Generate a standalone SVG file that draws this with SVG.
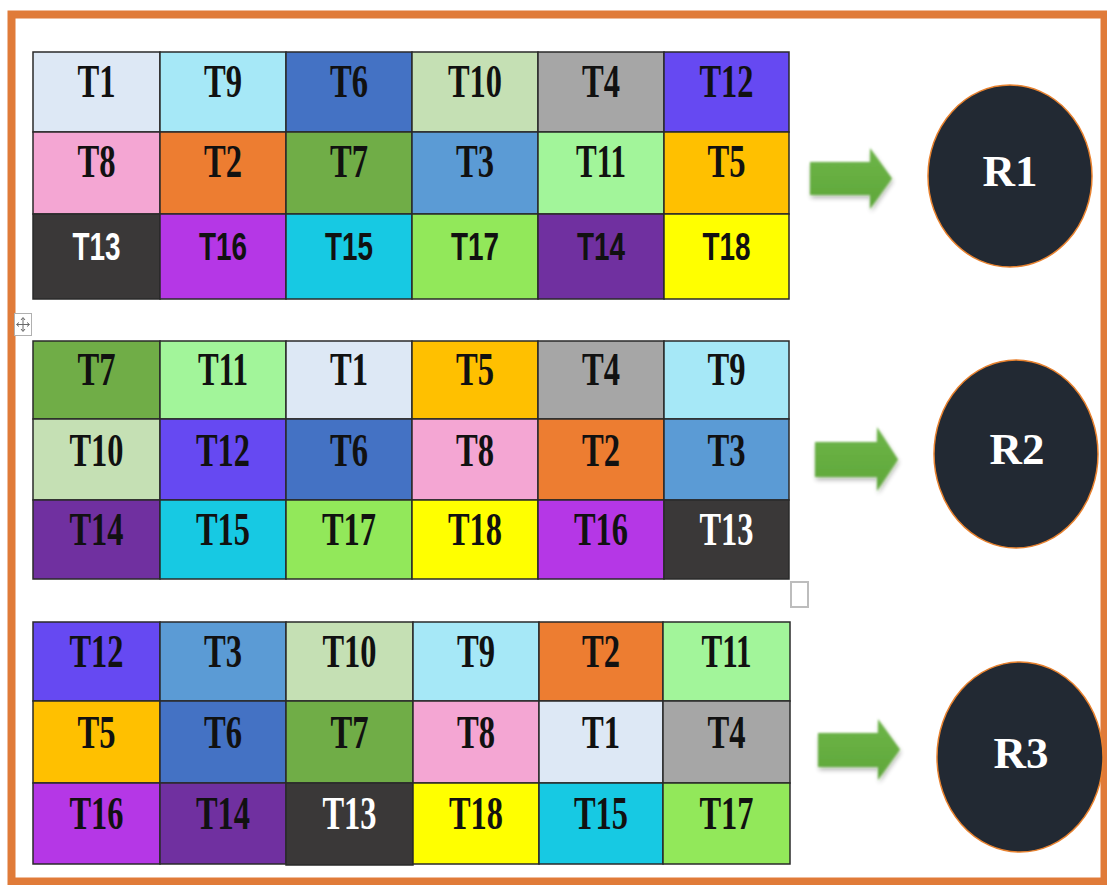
<svg xmlns="http://www.w3.org/2000/svg" width="1107" height="885" viewBox="0 0 1107 885">
  <defs>
    <style>
      .cell rect { stroke: #2a2a2a; stroke-width: 1.5; }
      .t { font-family: "Liberation Serif", "Times New Roman", serif; font-weight: bold; font-size: 46px; fill: #111; text-anchor: middle; }
      .s { font-family: "Liberation Sans", Arial, sans-serif; font-weight: bold; font-size: 38px; fill: #111; text-anchor: middle; }
      .w { fill: #ffffff; }
      .res ellipse { fill: #222933; stroke: #e8822f; stroke-width: 1.5; }
      .res text { font-family: "Liberation Serif", "Times New Roman", serif; font-weight: bold; font-size: 45px; fill: #ffffff; text-anchor: middle; }
      .arrow { fill: url(#arrowFill); filter: url(#soft); }
    </style>
    <linearGradient id="arrowFill" x1="0" y1="0" x2="0" y2="1">
      <stop offset="0" stop-color="#6db548"/>
      <stop offset="1" stop-color="#5fa73a"/>
    </linearGradient>
    <filter id="soft" x="-20%" y="-20%" width="140%" height="150%">
      <feGaussianBlur in="SourceAlpha" stdDeviation="2.5"/>
      <feOffset dx="1" dy="3" result="sh"/>
      <feComponentTransfer in="sh" result="shd"><feFuncA type="linear" slope="0.3"/></feComponentTransfer>
      <feGaussianBlur in="SourceGraphic" stdDeviation="0.8" result="g"/>
      <feMerge><feMergeNode in="shd"/><feMergeNode in="g"/></feMerge>
    </filter>
  </defs>

  <rect x="0" y="0" width="1107" height="885" fill="#ffffff"/>
  <!-- outer frame -->
  <rect x="11.5" y="14.5" width="1093" height="867" fill="none" stroke="#e07b39" stroke-width="8"/>

  <!-- table 1 -->
  <g id="table1">
    <g id="t1-T1" class="cell"><rect x="33" y="52" width="127" height="80" fill="#dde8f5"/><text class="t" x="96.5" y="97" textLength="38" lengthAdjust="spacingAndGlyphs">T1</text></g>
    <g id="t1-T9" class="cell"><rect x="160" y="52" width="126" height="80" fill="#a6e8f7"/><text class="t" x="223" y="97" textLength="38" lengthAdjust="spacingAndGlyphs">T9</text></g>
    <g id="t1-T6" class="cell"><rect x="286" y="52" width="126" height="80" fill="#4472c4"/><text class="t" x="349" y="97" textLength="38" lengthAdjust="spacingAndGlyphs">T6</text></g>
    <g id="t1-T10" class="cell"><rect x="412" y="52" width="126" height="80" fill="#c5e0b4"/><text class="t" x="475" y="97" textLength="54" lengthAdjust="spacingAndGlyphs">T10</text></g>
    <g id="t1-T4" class="cell"><rect x="538" y="52" width="126" height="80" fill="#a6a6a6"/><text class="t" x="601" y="97" textLength="38" lengthAdjust="spacingAndGlyphs">T4</text></g>
    <g id="t1-T12" class="cell"><rect x="664" y="52" width="125" height="80" fill="#6649f2"/><text class="t" x="726.5" y="97" textLength="54" lengthAdjust="spacingAndGlyphs">T12</text></g>

    <g id="t1-T8" class="cell"><rect x="33" y="132" width="127" height="82" fill="#f4a6d3"/><text class="t" x="96.5" y="177" textLength="38" lengthAdjust="spacingAndGlyphs">T8</text></g>
    <g id="t1-T2" class="cell"><rect x="160" y="132" width="126" height="82" fill="#ed7d31"/><text class="t" x="223" y="177" textLength="38" lengthAdjust="spacingAndGlyphs">T2</text></g>
    <g id="t1-T7" class="cell"><rect x="286" y="132" width="126" height="82" fill="#70ad47"/><text class="t" x="349" y="177" textLength="38" lengthAdjust="spacingAndGlyphs">T7</text></g>
    <g id="t1-T3" class="cell"><rect x="412" y="132" width="126" height="82" fill="#5b9bd5"/><text class="t" x="475" y="177" textLength="38" lengthAdjust="spacingAndGlyphs">T3</text></g>
    <g id="t1-T11" class="cell"><rect x="538" y="132" width="126" height="82" fill="#a2f59a"/><text class="t" x="601" y="177" textLength="50" lengthAdjust="spacingAndGlyphs">T11</text></g>
    <g id="t1-T5" class="cell"><rect x="664" y="132" width="125" height="82" fill="#ffc000"/><text class="t" x="726.5" y="177" textLength="38" lengthAdjust="spacingAndGlyphs">T5</text></g>

    <g id="t1-T13" class="cell"><rect x="33" y="214" width="127" height="85" fill="#3a3838"/><text class="s w" x="96.5" y="260" textLength="48" lengthAdjust="spacingAndGlyphs">T13</text></g>
    <g id="t1-T16" class="cell"><rect x="160" y="214" width="126" height="85" fill="#b537e6"/><text class="s" x="223" y="260" textLength="48" lengthAdjust="spacingAndGlyphs">T16</text></g>
    <g id="t1-T15" class="cell"><rect x="286" y="214" width="126" height="85" fill="#17c9e3"/><text class="s" x="349" y="260" textLength="48" lengthAdjust="spacingAndGlyphs">T15</text></g>
    <g id="t1-T17" class="cell"><rect x="412" y="214" width="126" height="85" fill="#92e85a"/><text class="s" x="475" y="260" textLength="48" lengthAdjust="spacingAndGlyphs">T17</text></g>
    <g id="t1-T14" class="cell"><rect x="538" y="214" width="126" height="85" fill="#7030a0"/><text class="s" x="601" y="260" textLength="48" lengthAdjust="spacingAndGlyphs">T14</text></g>
    <g id="t1-T18" class="cell"><rect x="664" y="214" width="125" height="85" fill="#ffff00"/><text class="s" x="726.5" y="260" textLength="48" lengthAdjust="spacingAndGlyphs">T18</text></g>
  </g>

  <!-- table move handle -->
  <g id="move-handle" fill="none" stroke="#8a8a8a" stroke-width="1">
    <rect x="14.5" y="313.5" width="17" height="22" fill="#ffffff" stroke="#b0b0b0"/>
    <path d="M23 318 V331 M17 324.5 H29" stroke="#6a6a6a"/>
    <path d="M21 320 L23 317.5 L25 320 M21 329 L23 331.5 L25 329 M19 322.5 L16.5 324.5 L19 326.5 M27 322.5 L29.5 324.5 L27 326.5" stroke="#6a6a6a"/>
  </g>

  <!-- table 2 -->
  <g id="table2">
    <g id="t2-T7" class="cell"><rect x="33" y="341" width="127" height="78" fill="#70ad47"/><text class="t" x="96.5" y="385" textLength="38" lengthAdjust="spacingAndGlyphs">T7</text></g>
    <g id="t2-T11" class="cell"><rect x="160" y="341" width="126" height="78" fill="#a2f59a"/><text class="t" x="223" y="385" textLength="50" lengthAdjust="spacingAndGlyphs">T11</text></g>
    <g id="t2-T1" class="cell"><rect x="286" y="341" width="126" height="78" fill="#dde8f5"/><text class="t" x="349" y="385" textLength="38" lengthAdjust="spacingAndGlyphs">T1</text></g>
    <g id="t2-T5" class="cell"><rect x="412" y="341" width="126" height="78" fill="#ffc000"/><text class="t" x="475" y="385" textLength="38" lengthAdjust="spacingAndGlyphs">T5</text></g>
    <g id="t2-T4" class="cell"><rect x="538" y="341" width="126" height="78" fill="#a6a6a6"/><text class="t" x="601" y="385" textLength="38" lengthAdjust="spacingAndGlyphs">T4</text></g>
    <g id="t2-T9" class="cell"><rect x="664" y="341" width="125" height="78" fill="#a6e8f7"/><text class="t" x="726.5" y="385" textLength="38" lengthAdjust="spacingAndGlyphs">T9</text></g>

    <g id="t2-T10" class="cell"><rect x="33" y="419" width="127" height="81" fill="#c5e0b4"/><text class="t" x="96.5" y="466" textLength="54" lengthAdjust="spacingAndGlyphs">T10</text></g>
    <g id="t2-T12" class="cell"><rect x="160" y="419" width="126" height="81" fill="#6649f2"/><text class="t" x="223" y="466" textLength="54" lengthAdjust="spacingAndGlyphs">T12</text></g>
    <g id="t2-T6" class="cell"><rect x="286" y="419" width="126" height="81" fill="#4472c4"/><text class="t" x="349" y="466" textLength="38" lengthAdjust="spacingAndGlyphs">T6</text></g>
    <g id="t2-T8" class="cell"><rect x="412" y="419" width="126" height="81" fill="#f4a6d3"/><text class="t" x="475" y="466" textLength="38" lengthAdjust="spacingAndGlyphs">T8</text></g>
    <g id="t2-T2" class="cell"><rect x="538" y="419" width="126" height="81" fill="#ed7d31"/><text class="t" x="601" y="466" textLength="38" lengthAdjust="spacingAndGlyphs">T2</text></g>
    <g id="t2-T3" class="cell"><rect x="664" y="419" width="125" height="81" fill="#5b9bd5"/><text class="t" x="726.5" y="466" textLength="38" lengthAdjust="spacingAndGlyphs">T3</text></g>

    <g id="t2-T14" class="cell"><rect x="33" y="500" width="127" height="79" fill="#7030a0"/><text class="t" x="96.5" y="545" textLength="54" lengthAdjust="spacingAndGlyphs">T14</text></g>
    <g id="t2-T15" class="cell"><rect x="160" y="500" width="126" height="79" fill="#17c9e3"/><text class="t" x="223" y="545" textLength="54" lengthAdjust="spacingAndGlyphs">T15</text></g>
    <g id="t2-T17" class="cell"><rect x="286" y="500" width="126" height="79" fill="#92e85a"/><text class="t" x="349" y="545" textLength="54" lengthAdjust="spacingAndGlyphs">T17</text></g>
    <g id="t2-T18" class="cell"><rect x="412" y="500" width="126" height="79" fill="#ffff00"/><text class="t" x="475" y="545" textLength="54" lengthAdjust="spacingAndGlyphs">T18</text></g>
    <g id="t2-T16" class="cell"><rect x="538" y="500" width="126" height="79" fill="#b537e6"/><text class="t" x="601" y="545" textLength="54" lengthAdjust="spacingAndGlyphs">T16</text></g>
    <g id="t2-T13" class="cell"><rect x="664" y="500" width="125" height="79" fill="#3a3838"/><text class="t w" x="726.5" y="545" textLength="54" lengthAdjust="spacingAndGlyphs">T13</text></g>
  </g>

  <!-- end-of-table marker -->
  <rect id="end-marker" x="791" y="582" width="17" height="25" fill="#ffffff" stroke="#bdbdbd" stroke-width="2"/>

  <!-- table 3 -->
  <g id="table3">
    <g id="t3-T12" class="cell"><rect x="33" y="622" width="127" height="79" fill="#6649f2"/><text class="t" x="96.5" y="667" textLength="54" lengthAdjust="spacingAndGlyphs">T12</text></g>
    <g id="t3-T3" class="cell"><rect x="160" y="622" width="126" height="79" fill="#5b9bd5"/><text class="t" x="223" y="667" textLength="38" lengthAdjust="spacingAndGlyphs">T3</text></g>
    <g id="t3-T10" class="cell"><rect x="286" y="622" width="127" height="79" fill="#c5e0b4"/><text class="t" x="349.5" y="667" textLength="54" lengthAdjust="spacingAndGlyphs">T10</text></g>
    <g id="t3-T9" class="cell"><rect x="413" y="622" width="126" height="79" fill="#a6e8f7"/><text class="t" x="476" y="667" textLength="38" lengthAdjust="spacingAndGlyphs">T9</text></g>
    <g id="t3-T2" class="cell"><rect x="539" y="622" width="124" height="79" fill="#ed7d31"/><text class="t" x="601" y="667" textLength="38" lengthAdjust="spacingAndGlyphs">T2</text></g>
    <g id="t3-T11" class="cell"><rect x="663" y="622" width="127" height="79" fill="#a2f59a"/><text class="t" x="726.5" y="667" textLength="50" lengthAdjust="spacingAndGlyphs">T11</text></g>

    <g id="t3-T5" class="cell"><rect x="33" y="701" width="127" height="82" fill="#ffc000"/><text class="t" x="96.5" y="748" textLength="38" lengthAdjust="spacingAndGlyphs">T5</text></g>
    <g id="t3-T6" class="cell"><rect x="160" y="701" width="126" height="82" fill="#4472c4"/><text class="t" x="223" y="748" textLength="38" lengthAdjust="spacingAndGlyphs">T6</text></g>
    <g id="t3-T7" class="cell"><rect x="286" y="701" width="127" height="82" fill="#70ad47"/><text class="t" x="349.5" y="748" textLength="38" lengthAdjust="spacingAndGlyphs">T7</text></g>
    <g id="t3-T8" class="cell"><rect x="413" y="701" width="126" height="82" fill="#f4a6d3"/><text class="t" x="476" y="748" textLength="38" lengthAdjust="spacingAndGlyphs">T8</text></g>
    <g id="t3-T1" class="cell"><rect x="539" y="701" width="124" height="82" fill="#dde8f5"/><text class="t" x="601" y="748" textLength="38" lengthAdjust="spacingAndGlyphs">T1</text></g>
    <g id="t3-T4" class="cell"><rect x="663" y="701" width="127" height="82" fill="#a6a6a6"/><text class="t" x="726.5" y="748" textLength="38" lengthAdjust="spacingAndGlyphs">T4</text></g>

    <g id="t3-T16" class="cell"><rect x="33" y="783" width="127" height="81" fill="#b537e6"/><text class="t" x="96.5" y="829" textLength="54" lengthAdjust="spacingAndGlyphs">T16</text></g>
    <g id="t3-T14" class="cell"><rect x="160" y="783" width="126" height="81" fill="#7030a0"/><text class="t" x="223" y="829" textLength="54" lengthAdjust="spacingAndGlyphs">T14</text></g>
    <g id="t3-T13" class="cell"><rect x="286" y="783" width="127" height="82" fill="#3a3838"/><text class="t w" x="349.5" y="829" textLength="54" lengthAdjust="spacingAndGlyphs">T13</text></g>
    <g id="t3-T18" class="cell"><rect x="413" y="783" width="126" height="81" fill="#ffff00"/><text class="t" x="476" y="829" textLength="54" lengthAdjust="spacingAndGlyphs">T18</text></g>
    <g id="t3-T15" class="cell"><rect x="539" y="783" width="124" height="81" fill="#17c9e3"/><text class="t" x="601" y="829" textLength="54" lengthAdjust="spacingAndGlyphs">T15</text></g>
    <g id="t3-T17" class="cell"><rect x="663" y="783" width="127" height="81" fill="#92e85a"/><text class="t" x="726.5" y="829" textLength="54" lengthAdjust="spacingAndGlyphs">T17</text></g>
  </g>

  <!-- block arrows -->
  <g id="connectors">
    <path class="arrow" d="M810 162 H870 V148 L892 178.5 L870 209 V195 H810 Z"/>
    <path class="arrow" d="M815 442 H877 V427 L898 459.5 L877 491 V477 H815 Z"/>
    <path class="arrow" d="M818 733 H878 V719 L900 749.5 L878 780 V767 H818 Z"/>
  </g>

  <!-- result nodes -->
  <g id="R1" class="res"><ellipse cx="1010" cy="176" rx="82" ry="91"/><text x="1010" y="186">R1</text></g>
  <g id="R2" class="res"><ellipse cx="1016" cy="454" rx="82" ry="94"/><text x="1017" y="464">R2</text></g>
  <g id="R3" class="res"><ellipse cx="1020" cy="757" rx="83" ry="95"/><text x="1021" y="768">R3</text></g>
</svg>
